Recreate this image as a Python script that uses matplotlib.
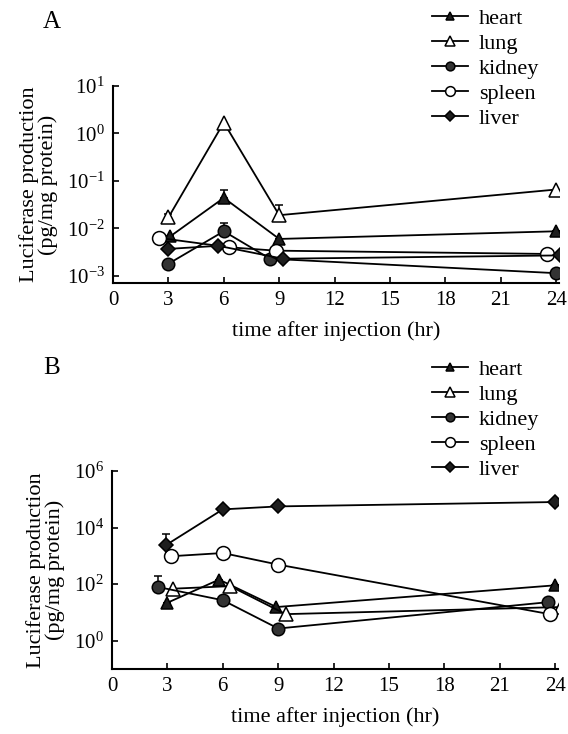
import numpy as np
import matplotlib
matplotlib.use('Agg')
import matplotlib.pyplot as plt

plt.rcParams['font.family'] = ['Liberation Serif', 'DejaVu Serif']
plt.rcParams['mathtext.fontset'] = 'custom'
plt.rcParams['mathtext.rm'] = 'Liberation Serif'

organs = ['heart', 'lung', 'kidney', 'spleen', 'liver']
x_ticks = [0, 3, 6, 9, 12, 15, 18, 21, 24]

# panel A (pg/mg protein)
a_x = {
    'heart': [3.1, 6.0, 9.0, 24.0],
    'lung': [3.0, 6.0, 9.0, 24.0],
    'kidney': [3.0, 6.0, 8.5, 24.0],
    'spleen': [2.5, 6.3, 8.8, 23.5],
    'liver': [3.0, 5.7, 9.2, 24.2],
}
a_y = {
    'heart': [0.0068, 0.044, 0.006, 0.0087],
    'lung': [0.017, 1.7, 0.019, 0.066],
    'kidney': [0.0018, 0.0087, 0.0023, 0.00114],
    'spleen': [0.0063, 0.0040, 0.0034, 0.0029],
    'liver': [0.0037, 0.0043, 0.0023, 0.0027],
}
a_err = {
    'heart': [0.0, 0.02, 0.0, 0.0],
    'lung': [0.003, 0.0, 0.012, 0.0],
    'kidney': [0.0, 0.004, 0.0, 0.0],
    'spleen': [0, 0, 0, 0],
    'liver': [0, 0, 0, 0],
}

# panel B
b_x = {
    'heart': [3.0, 5.8, 8.9, 24.0],
    'lung': [3.3, 6.4, 9.4, 24.3],
    'kidney': [2.5, 6.0, 9.0, 23.6],
    'spleen': [3.2, 6.0, 9.0, 23.7],
    'liver': [2.9, 6.0, 9.0, 24.0],
}
b_y = {
    'heart': [22, 145, 15.5, 91],
    'lung': [69, 85, 8.7, 15.5],
    'kidney': [79, 27, 2.7, 23],
    'spleen': [970, 1260, 490, 8.7],
    'liver': [2350, 44000, 56000, 80000],
}
b_err = {
    'heart': [0, 0, 0, 0],
    'lung': [0, 0, 0, 0],
    'kidney': [110, 0, 0, 0],
    'spleen': [0, 0, 0, 0],
    'liver': [3400, 0, 0, 0],
}

# marker style per organ
dark = '#1e1e1e'
styles = {
    'heart': dict(marker='^', mfc=dark, ms=9),
    'lung': dict(marker='^', mfc='white', ms=10),
    'kidney': dict(marker='o', mfc='#333333', ms=9),
    'spleen': dict(marker='o', mfc='white', ms=10),
    'liver': dict(marker='D', mfc=dark, ms=7),
}


def draw_panel(ax, xs, ys, errs, ylim, yticks, ylabels):
    handles = []
    for org in organs:
        y = np.array(ys[org], dtype=float)
        up = np.array(errs[org], dtype=float)
        cont = ax.errorbar(xs[org], y, yerr=[np.zeros_like(up), up], color='black',
                           lw=1.3, mec='black', mew=1.1, capsize=3, elinewidth=1.1,
                           **styles[org])
        handles.append(cont.lines[0])
    ax.set_yscale('log')
    ax.set_xlim(0, 24.15)
    ax.set_ylim(*ylim)
    ax.set_xticks(x_ticks)
    ax.set_yticks(yticks)
    ax.set_yticklabels(ylabels)
    ax.minorticks_off()
    ax.tick_params(direction='in', length=4, width=1.2, labelsize=15, pad=6)
    ax.spines['top'].set_visible(False)
    ax.spines['right'].set_visible(False)
    ax.spines['left'].set_linewidth(1.5)
    ax.spines['bottom'].set_linewidth(1.5)
    ax.set_xlabel('time after injection (hr)', fontsize=16, labelpad=8)
    ax.set_ylabel('Luciferase production\n(pg/mg protein)', fontsize=16,
                  linespacing=1.0, labelpad=6)
    return handles


fig = plt.figure(figsize=(5.68, 7.34), dpi=100)
ax_a = fig.add_axes([113 / 568, 1 - 283 / 734, 446 / 568, 197 / 734])
ax_b = fig.add_axes([112 / 568, 1 - 669 / 734, 446 / 568, 198 / 734])

h_a = draw_panel(ax_a, a_x, a_y, a_err, (10 ** -3.15, 10),
                 [1e-3, 1e-2, 1e-1, 1, 10],
                 [r'$\mathregular{10^{-3}}$', r'$\mathregular{10^{-2}}$',
                  r'$\mathregular{10^{-1}}$', r'$\mathregular{10^{0}}$',
                  r'$\mathregular{10^{1}}$'])
h_b = draw_panel(ax_b, b_x, b_y, b_err, (0.1, 1e6),
                 [1, 1e2, 1e4, 1e6],
                 [r'$\mathregular{10^{0}}$', r'$\mathregular{10^{2}}$',
                  r'$\mathregular{10^{4}}$', r'$\mathregular{10^{6}}$'])

for ax, h, top in [(ax_a, h_a, 8), (ax_b, h_b, 359)]:
    ax.legend(h, organs, loc='upper left', bbox_to_anchor=(432 / 568, 1 - top / 734),
              bbox_transform=fig.transFigure, frameon=False, fontsize=16,
              handlelength=1.6, handletextpad=0.5, labelspacing=0.2,
              borderpad=0, borderaxespad=0, markerscale=0.7)

fig.text(52 / 568, 1 - 22 / 734, 'A', fontsize=18, ha='center', va='center')
fig.text(52 / 568, 1 - 368 / 734, 'B', fontsize=18, ha='center', va='center')

fig.savefig('out.png', dpi=100)
